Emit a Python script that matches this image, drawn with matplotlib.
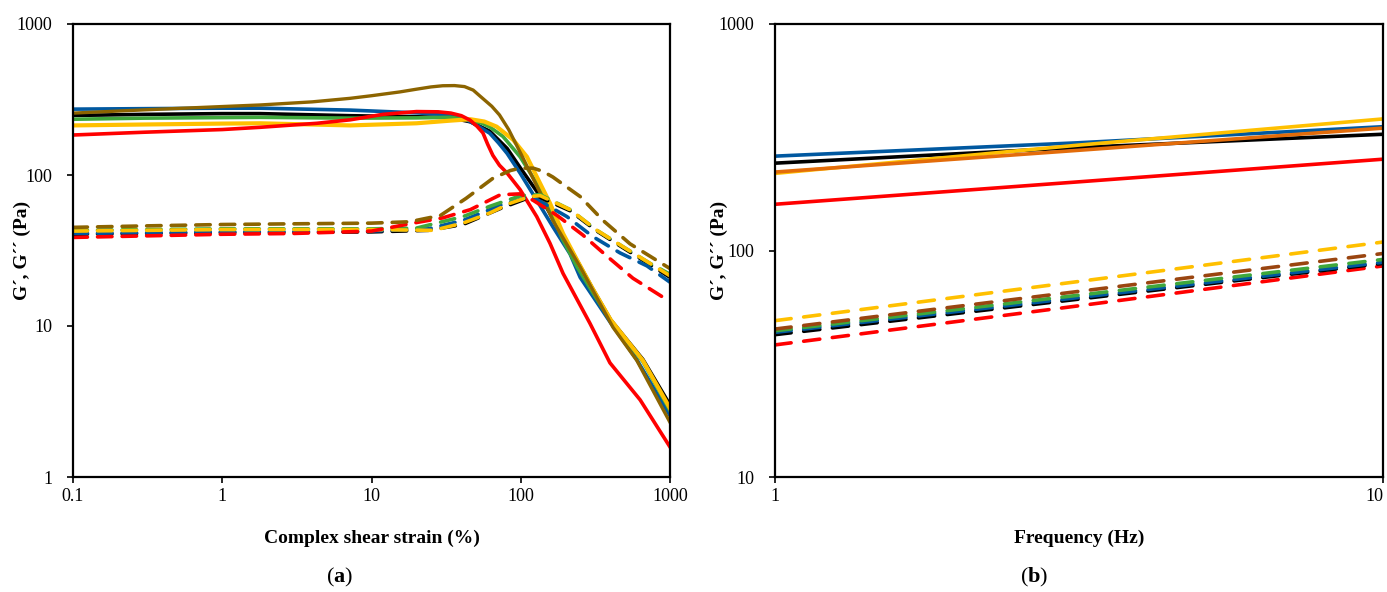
import matplotlib
matplotlib.use("Agg")
import matplotlib.pyplot as plt

plt.rcParams['font.family'] = ['Liberation Serif', 'DejaVu Serif']
plt.rcParams['mathtext.fontset'] = 'custom'
plt.rcParams['mathtext.rm'] = 'Liberation Serif'
plt.rcParams['mathtext.bf'] = 'Liberation Serif:bold'

# ---- panel (a): amplitude sweep, strain (%) vs G' (solid) / G'' (dashed)
black_x = [0.1, 0.3, 1, 1.8, 7.2, 20, 33.6, 46, 62, 81, 99, 128, 164, 214, 300, 400, 659, 1000]
black_g1 = [248, 252, 255, 255, 247, 243, 240, 225, 195, 150, 112, 78, 52, 33, 18, 11, 6.0, 3.0]
blue_x = [0.1, 0.3, 1, 1.8, 7.2, 20, 33.6, 40, 45.7, 53, 62, 71, 81, 99, 128, 164, 214, 250, 400, 598, 1000]
blue_g1 = [273, 275, 277, 277, 269, 258, 250, 240, 226, 208, 189, 163, 139, 103, 68, 45.5, 30, 21, 10.5, 6.0, 2.55]
green_x = [0.1, 0.3, 1, 1.8, 7.2, 20, 33.6, 46, 55, 62, 76, 99, 128, 157, 192, 238, 300, 400, 659, 1000]
green_g1 = [234, 238, 240, 241, 238, 239, 241, 232, 220, 208, 180, 132, 88, 58.6, 37, 24.7, 17, 10.8, 5.8, 2.75]
yellow_x = [0.1, 0.3, 1, 1.8, 7.2, 20, 33.6, 46, 57, 69, 89, 110, 128, 157, 192, 238, 300, 400, 659, 1000]
yellow_g1 = [213, 216, 219, 220, 213, 220, 229, 234, 226, 209, 171, 132, 97.5, 65, 41, 27.4, 18, 11, 5.9, 2.85]
brown_x = [0.1, 0.3, 1, 1.8, 4, 7.2, 10, 15.5, 20, 25, 30, 36, 42, 48, 53, 64, 72, 83, 103, 135, 164, 250, 415, 600, 1000]
brown_g1 = [257, 270, 284, 291, 305, 322, 335, 355, 370, 383, 390, 391, 385, 365, 335, 285, 250, 200, 131, 76, 50, 24.6, 9.8, 5.9, 2.3]
red_x = [0.1, 0.3, 1, 1.8, 4.3, 7.2, 11.9, 20, 28, 34, 40, 45.7, 51, 55.8, 60, 65, 72, 81, 99, 128, 157, 192, 291, 396, 631, 1000]
red_g1 = [184, 192, 200, 207, 220, 232, 252, 263, 262, 257, 247, 231, 210, 190, 160, 135, 116, 103, 80, 53, 35.3, 22.3, 10.4, 5.7, 3.24, 1.58]

black_dx = [0.1, 1, 10, 24, 41, 73, 110, 135, 214, 324, 484, 734, 1000]
black_g2 = [40.5, 41.5, 42, 43, 47, 60, 70, 71, 58, 42.5, 33, 25.5, 21]
blue_dx = [0.1, 1, 10, 24, 41, 73, 110, 128, 204, 305, 462, 701, 1000]
blue_g2 = [41, 42, 42.5, 44, 50, 63, 71, 69, 53, 39, 30.5, 25, 19.5]
green_dx = [0.1, 1, 10, 20, 41, 62, 100, 135, 214, 324, 484, 734, 1000]
green_g2 = [43, 44, 44, 44.5, 53, 62, 73, 74, 59, 43, 33.5, 26, 22]
yellow_dx = [0.1, 1, 10, 26, 41, 62, 85, 115, 135, 214, 324, 484, 734, 1000]
yellow_g2 = [42.5, 43.5, 43.5, 43, 48, 56, 65, 72, 73, 59, 43, 33.5, 26, 21.5]
red_dx = [0.1, 0.3, 1, 3, 10, 19, 30, 46, 73, 99, 121, 175, 261, 378, 565, 1000]
red_g2 = [38.6, 39.5, 40.5, 41, 42.5, 48, 52, 59, 74, 75, 68, 54, 40, 29, 20.7, 14.5]
brown_dx = [0.1, 0.3, 1, 3, 10, 18, 29, 43, 65, 85, 99, 121, 140, 164, 250, 356, 540, 1000]
brown_g2 = [45, 46, 47, 47.5, 48, 49, 54, 70, 95, 107, 111, 111, 106, 97, 72, 50, 35, 24]

# ---- panel (b): frequency sweep
freq = [1, 3.16, 10]
b_blue_g1 = [261, 299, 352]
b_black_g1 = [243, 285, 326]
b_orange_g1 = [222, 277, 347]
b_yellow_g1 = [219, 292, 381]
b_red_g1 = [160, 201, 253]
b_yellow_g2 = [49, 73, 109]
b_brown_g2 = [45, 66, 97]
b_green_g2 = [44.2, 63.5, 91.3]
b_blue_g2 = [43.5, 62, 88.7]
b_black_g2 = [42.5, 61, 87.7]
b_red_g2 = [38.3, 57, 85.5]

BLACK = '#000000'
BLUE = '#0058A0'
GREEN = '#3FA83C'
YELLOW = '#FFC000'
BROWN = '#8C6400'
RED = '#FF0000'
ORANGE = '#E36C0A'
RUST = '#9A4510'

fig = plt.figure(figsize=(13.87, 5.92), dpi=100)
ax1 = fig.add_axes([73 / 1387, 115 / 592, 597 / 1387, 453 / 592])
ax2 = fig.add_axes([775 / 1387, 115 / 592, 608 / 1387, 453 / 592])

lw = 2.6
dash = dict(linestyle=(0, (4, 2.8)), dash_capstyle='round')

# solid G'
ax1.plot(black_x, black_g1, color=BLACK, lw=lw)
ax1.plot(blue_x, blue_g1, color=BLUE, lw=lw)
ax1.plot(green_x, green_g1, color=GREEN, lw=lw)
ax1.plot(yellow_x, yellow_g1, color=YELLOW, lw=lw + 0.4)
ax1.plot(brown_x, brown_g1, color=BROWN, lw=lw - 0.2)
ax1.plot(red_x, red_g1, color=RED, lw=lw)
# dashed G''
ax1.plot(black_dx, black_g2, color=BLACK, lw=lw, **dash)
ax1.plot(blue_dx, blue_g2, color=BLUE, lw=lw, **dash)
ax1.plot(green_dx, green_g2, color=GREEN, lw=lw, **dash)
ax1.plot(yellow_dx, yellow_g2, color=YELLOW, lw=lw, **dash)
ax1.plot(red_dx, red_g2, color=RED, lw=lw, **dash)
ax1.plot(brown_dx, brown_g2, color=BROWN, lw=lw, **dash)

ax2.plot(freq, b_blue_g1, color=BLUE, lw=lw)
ax2.plot(freq, b_black_g1, color=BLACK, lw=lw)
ax2.plot(freq, b_yellow_g1, color=YELLOW, lw=lw)
ax2.plot(freq, b_orange_g1, color=ORANGE, lw=lw)
ax2.plot(freq, b_red_g1, color=RED, lw=lw)
dash_b = dict(linestyle=(0, (4.5, 3.5)), dash_capstyle='round')
ax2.plot(freq, b_red_g2, color=RED, lw=lw, **dash_b)
ax2.plot(freq, b_black_g2, color=BLACK, lw=lw, **dash_b)
ax2.plot(freq, b_blue_g2, color=BLUE, lw=lw, **dash_b)
ax2.plot(freq, b_green_g2, color=GREEN, lw=lw, **dash_b)
ax2.plot(freq, b_brown_g2, color=RUST, lw=lw, **dash_b)
ax2.plot(freq, b_yellow_g2, color=YELLOW, lw=lw, **dash_b)

for ax in (ax1, ax2):
    ax.set_xscale('log')
    ax.set_yscale('log')
    ax.minorticks_off()
    for s in ax.spines.values():
        s.set_linewidth(1.6)
    ax.tick_params(direction='out', length=4, width=1.2, labelsize=13)
    ax.tick_params(axis='x', pad=4)
    ax.tick_params(axis='y', pad=11)
    ax.set_ylabel('G\u00b4, G\u00b4\u00b4 (Pa)', fontsize=14, fontweight='bold')

ax1.yaxis.set_label_coords(-0.07, 0.5)
ax2.yaxis.set_label_coords(-0.078, 0.5)

ax1.set_xlim(0.1, 1000)
ax1.set_ylim(1, 1000)
ax1.set_xticks([0.1, 1, 10, 100, 1000])
ax1.set_xticklabels(['0.1', '1', '10', '100', '1000'])
ax1.set_yticks([1, 10, 100, 1000])
ax1.set_yticklabels(['1', '10', '100', '1000'])
ax1.set_xlabel('Complex shear strain (%)', fontsize=14, fontweight='bold', labelpad=18)

ax2.set_xlim(1, 10)
ax2.set_ylim(10, 1000)
ax2.set_xticks([1, 10])
ax2.set_xticklabels(['1', '10'])
ax2.get_xticklabels()[-1].set_horizontalalignment('right')
ax2.set_yticks([10, 100, 1000])
ax2.set_yticklabels(['10', '100', '1000'])
ax2.set_xlabel('Frequency (Hz)', fontsize=14, fontweight='bold', labelpad=18)

fig.text(340 / 1387, 1 - 577 / 592, r'($\mathbf{a}$)', fontsize=16, ha='center', va='center')
fig.text(1034 / 1387, 1 - 577 / 592, r'($\mathbf{b}$)', fontsize=16, ha='center', va='center')

fig.savefig('out.png', dpi=100)
